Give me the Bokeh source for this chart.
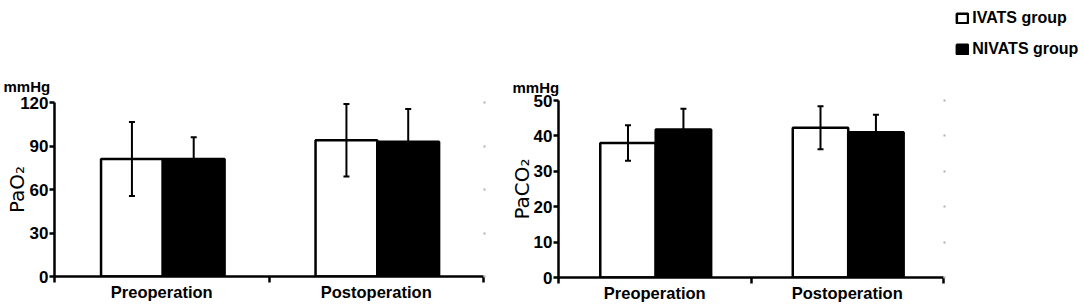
import numpy as np
from bokeh.plotting import figure
from bokeh.layouts import row, column
from bokeh.models import (ColumnDataSource, Whisker, TeeHead, FixedTicker, Range1d,
                          LinearAxis, Legend, LegendItem)
from bokeh.embed import file_html
from bokeh.resources import INLINE

# ---- data ----
groups = ["Preoperation", "Postoperation"]
series = ["IVATS group", "NIVATS group"]

pao2_ivats = [81, 94]
pao2_ivats_sd = [25.5, 25]
pao2_nivats = [81, 93]
pao2_nivats_sd = [15, 22.5]

paco2_ivats = [38, 42.3]
paco2_ivats_sd = [5, 6.1]
paco2_nivats = [41.8, 41]
paco2_nivats_sd = [5.9, 5]

pao2_ticks = [0, 30, 60, 90, 120]
paco2_ticks = [0, 10, 20, 30, 40, 50]

FONT = "Liberation Sans"
LABEL_FONT = "DejaVu Sans"
BAR_W = 0.288
OFF = 0.144
LEG_H = 60


def make_panel(ivats, ivats_sd, nivats, nivats_sd, ticks, ymax, ylabel,
               width, height, bl, br, bt, bb, ylab_standoff, mm_offset, mm_standoff):
    p = figure(width=width, height=height, output_backend="svg", toolbar_location=None,
               x_range=Range1d(0, len(groups)), y_range=Range1d(0, ymax),
               min_border_left=bl, min_border_right=br, min_border_top=bt,
               min_border_bottom=bb)
    p.outline_line_color = None
    p.xgrid.visible = False
    p.ygrid.visible = False
    p.xaxis.visible = False
    p.yaxis.visible = False

    centers = np.arange(len(groups)) + 0.5 + 0.005
    xi = centers - OFF
    xn = centers + OFF
    src_i = ColumnDataSource(dict(x=xi, top=ivats,
                                  lo=np.array(ivats) - np.array(ivats_sd),
                                  hi=np.array(ivats) + np.array(ivats_sd)))
    src_n = ColumnDataSource(dict(x=xn, top=nivats,
                                  lo=np.array(nivats) - np.array(nivats_sd),
                                  hi=np.array(nivats) + np.array(nivats_sd)))

    for src in (src_i, src_n):
        w = Whisker(source=src, base="x", lower="lo", upper="hi",
                    line_color="black", line_width=2,
                    upper_head=TeeHead(size=6, line_width=2, line_color="black"),
                    lower_head=TeeHead(size=6, line_width=2, line_color="black"))
        p.add_layout(w)

    p.vbar(x="x", top="top", width=BAR_W, source=src_i, fill_color="white",
           line_color="black", line_width=2.5, level="underlay")
    p.vbar(x="x", top="top", width=BAR_W, source=src_n, fill_color="black",
           line_color="black", line_width=2.5, level="underlay")

    # x axis
    xa = LinearAxis(ticker=FixedTicker(ticks=list(np.arange(len(groups)) + 0.5),
                                       minor_ticks=list(range(len(groups) + 1))),
                    major_label_overrides={float(i + 0.5): g for i, g in enumerate(groups)})
    xa.axis_line_width = 2.5
    xa.major_tick_out = 0
    xa.major_tick_in = 0
    xa.minor_tick_out = 6
    xa.minor_tick_in = 0
    xa.minor_tick_line_width = 2.5
    xa.major_label_standoff = 0
    xa.major_label_text_font = FONT
    xa.major_label_text_font_style = "bold"
    xa.major_label_text_font_size = "16.5px"
    xa.major_label_text_color = "black"
    p.add_layout(xa, "below")

    # y axis
    ya = LinearAxis(ticker=FixedTicker(ticks=ticks), axis_label=ylabel)
    ya.axis_line_width = 2.5
    ya.major_tick_out = 5
    ya.major_tick_in = 0
    ya.major_tick_line_width = 2.5
    ya.minor_tick_line_color = None
    ya.major_label_standoff = 1
    ya.major_label_text_font = FONT
    ya.major_label_text_font_style = "bold"
    ya.major_label_text_font_size = "17px"
    ya.major_label_text_color = "black"
    ya.axis_label_standoff = ylab_standoff
    ya.axis_label_text_font = LABEL_FONT
    ya.axis_label_text_font_style = "normal"
    ya.axis_label_text_font_size = "20px"
    ya.axis_label_text_color = "black"
    p.add_layout(ya, "left")

    # faint right axis
    ra = LinearAxis(ticker=FixedTicker(ticks=ticks))
    ra.axis_line_color = None
    ra.major_tick_out = 2
    ra.major_tick_in = 0
    ra.major_tick_line_color = "#b0b0b0"
    ra.major_tick_line_width = 2
    ra.minor_tick_line_color = None
    ra.major_label_text_font_size = "0px"
    ra.major_label_text_alpha = 0
    p.add_layout(ra, "right")

    # unit label as title
    p.title.text = "mmHg"
    p.title.align = "left"
    p.title.offset = mm_offset
    p.title.standoff = mm_standoff
    p.title.text_font = FONT
    p.title.text_font_style = "bold"
    p.title.text_font_size = "15px"
    p.title.text_color = "black"
    return p


left = make_panel(pao2_ivats, pao2_ivats_sd, pao2_nivats, pao2_nivats_sd, pao2_ticks, 120,
                  "PaO₂", width=500, height=307, bl=54, br=17, bt=102, bb=31,
                  ylab_standoff=-12, mm_offset=-51, mm_standoff=16)
right = make_panel(paco2_ivats, paco2_ivats_sd, paco2_nivats, paco2_nivats_sd, paco2_ticks, 50,
                   "PaCO₂", width=584, height=307 - LEG_H, bl=58, br=141, bt=100 - LEG_H, bb=30,
                   ylab_standoff=-3, mm_offset=-46, mm_standoff=10)

# legend strip above the right panel (legend-only swatch renderers, nothing plotted)
lf = figure(frame_width=567, frame_height=LEG_H - 9, output_backend="svg", toolbar_location=None,
            x_range=Range1d(0, 1), y_range=Range1d(0, 1),
            min_border_left=0, min_border_right=17, min_border_top=9, min_border_bottom=0)
lf.outline_line_color = None
lf.background_fill_color = "white"
lf.border_fill_color = "white"
lf.xgrid.visible = False
lf.ygrid.visible = False
lf.xaxis.visible = False
lf.yaxis.visible = False
swatch = dict(x=np.array([np.nan]), top=np.array([np.nan]))
g1 = lf.vbar(x="x", top="top", width=0.1, source=ColumnDataSource(swatch), fill_color="white",
             line_color="black", line_width=2.5)
g2 = lf.vbar(x="x", top="top", width=0.1, source=ColumnDataSource(swatch), fill_color="black",
             line_color="black", line_width=2.5)
lg = Legend(items=[LegendItem(label=series[0], renderers=[g1]),
                   LegendItem(label=series[1], renderers=[g2])],
            location="top_right", orientation="vertical")
lg.glyph_width = 14
lg.glyph_height = 12
lg.label_standoff = 3
lg.spacing = 13
lg.padding = 12
lg.margin = 0
lg.border_line_color = None
lg.background_fill_alpha = 0
lg.label_text_font = FONT
lg.label_text_font_style = "bold"
lg.label_text_font_size = "16px"
lg.label_text_color = "black"
lf.add_layout(lg)

layout = row(left, column(lf, right, spacing=0), spacing=0)
open("out.html", "w").write(file_html(layout, INLINE))
